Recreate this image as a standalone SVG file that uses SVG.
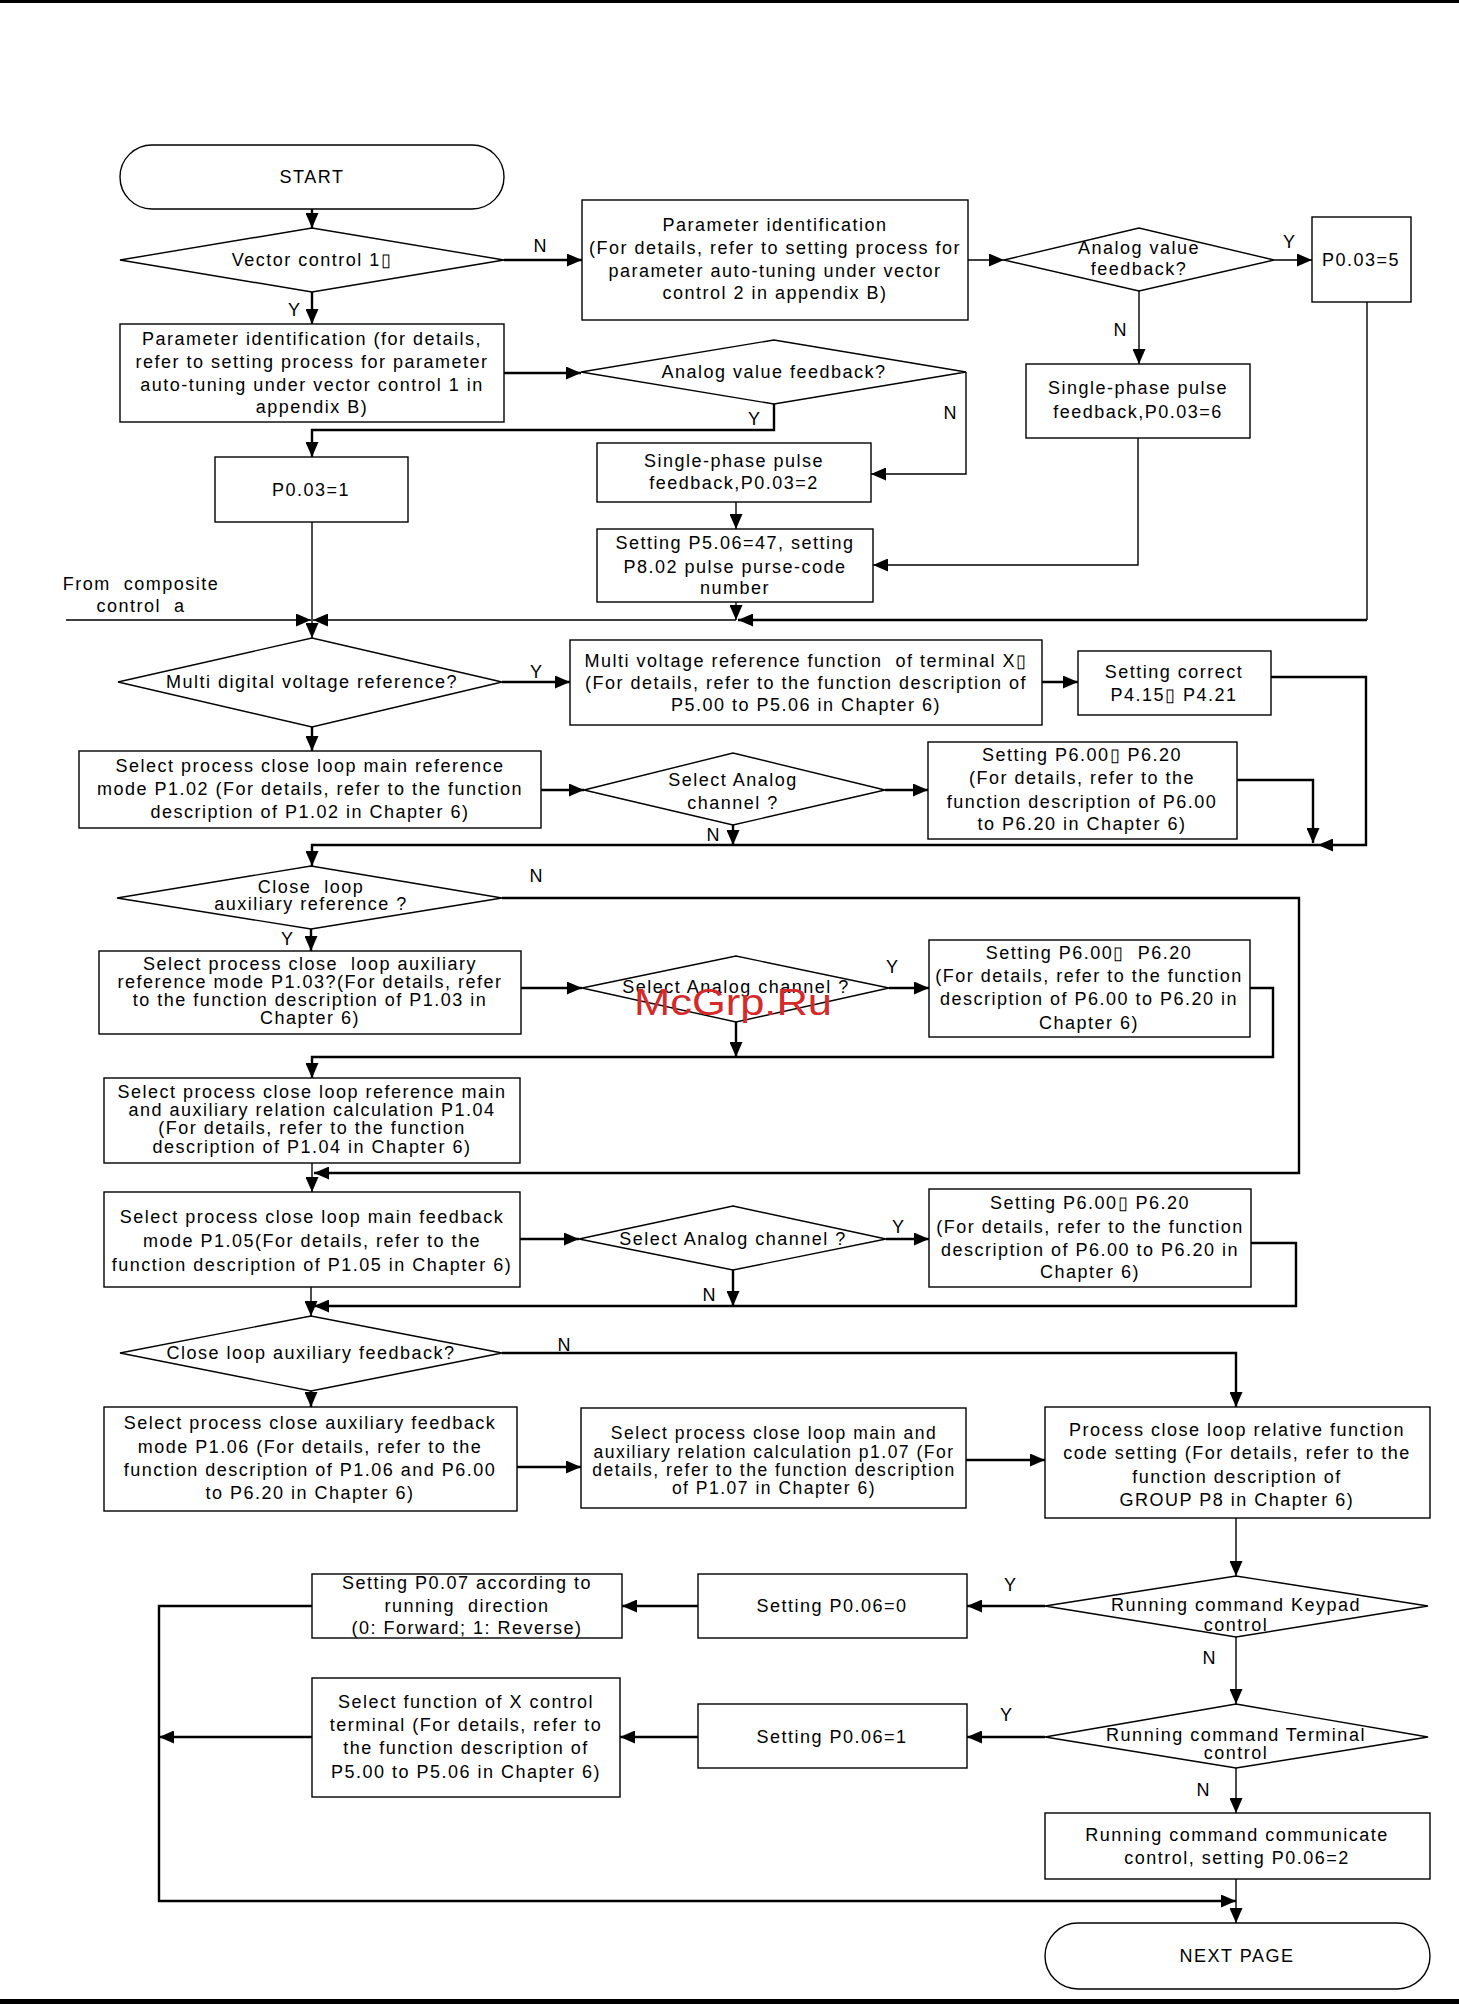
<svg xmlns="http://www.w3.org/2000/svg" width="1459" height="2004" viewBox="0 0 1459 2004">
<style>
.s{fill:#fff;stroke:#000;stroke-width:1.4}
.t{font-family:"Liberation Sans",Arial,sans-serif;font-size:18px;letter-spacing:1.5px;text-anchor:middle;fill:#000}
.sm{font-size:17.5px;letter-spacing:1.5px}
.l{font-family:"Liberation Sans",Arial,sans-serif;font-size:18px;text-anchor:middle;fill:#000}
.c{fill:none;stroke:#000;stroke-width:2.4}
.n{fill:none;stroke:#000;stroke-width:1.4}
</style>
<defs>
<marker id="a" markerUnits="userSpaceOnUse" markerWidth="15" markerHeight="13" refX="15" refY="6.5" orient="auto"><path d="M0,0 L15,6.5 L0,13 z" fill="#000"/></marker>
</defs>
<rect x="0" y="0" width="1459" height="3" fill="#000"/>
<rect x="0" y="1999" width="1459" height="5" fill="#000"/>

<g id="connectors">
<path class="c" d="M312,209 V228" marker-end="url(#a)"/>
<path class="c" d="M504,260 H582" marker-end="url(#a)"/>
<path class="c" d="M312,292 V324" marker-end="url(#a)"/>
<path class="n" d="M968,260 H1004" marker-end="url(#a)"/>
<path class="n" d="M1274,260 H1312" marker-end="url(#a)"/>
<path class="n" d="M1139,291 V364" marker-end="url(#a)"/>
<path class="c" d="M504,373 H581" marker-end="url(#a)"/>
<path class="c" d="M774,404 V430 H312 V457" marker-end="url(#a)"/>
<path class="n" d="M966,372 V474 H871" marker-end="url(#a)"/>
<path class="n" d="M736,502 V529" marker-end="url(#a)"/>
<path class="n" d="M1138,438 V565 H873" marker-end="url(#a)"/>
<path class="n" d="M1367,302 V620" />
<path class="c" d="M1367,620 H738" marker-end="url(#a)"/>
<path class="n" d="M736,602 V620" marker-end="url(#a)"/>
<path class="n" d="M736,620 H313" marker-end="url(#a)"/>
<path class="n" d="M66,620 H311" marker-end="url(#a)"/>
<path class="n" d="M312,522 V638" marker-end="url(#a)"/>
<path class="c" d="M502,682 H570" marker-end="url(#a)"/>
<path class="c" d="M312,727 V751" marker-end="url(#a)"/>
<path class="c" d="M1042,682 H1078" marker-end="url(#a)"/>
<path class="c" d="M1271,677 H1366 V845 H1318" marker-end="url(#a)"/>
<path class="c" d="M541,790 H584" marker-end="url(#a)"/>
<path class="c" d="M885,790 H928" marker-end="url(#a)"/>
<path class="c" d="M1237,780 H1313 V843" marker-end="url(#a)"/>
<path class="c" d="M733,825 V845" marker-end="url(#a)"/>
<path class="c" d="M1318,845 H312 V866" marker-end="url(#a)"/>
<path class="c" d="M502,898 H1299 V1173 H314" marker-end="url(#a)"/>
<path class="c" d="M311,929 V951" marker-end="url(#a)"/>
<path class="c" d="M521,988 H582" marker-end="url(#a)"/>
<path class="c" d="M889,988 H929" marker-end="url(#a)"/>
<path class="c" d="M1250,988 H1273 V1057 H312 V1078" marker-end="url(#a)"/>
<path class="c" d="M736,1022 V1057" marker-end="url(#a)"/>
<path class="n" d="M312,1163 V1192" marker-end="url(#a)"/>
<path class="c" d="M520,1239 H579" marker-end="url(#a)"/>
<path class="c" d="M886,1239 H929" marker-end="url(#a)"/>
<path class="c" d="M1251,1243 H1296 V1306 H314" marker-end="url(#a)"/>
<path class="c" d="M733,1270 V1306" marker-end="url(#a)"/>
<path class="n" d="M311,1287 V1316" marker-end="url(#a)"/>
<path class="c" d="M502,1353 H1236 V1407" marker-end="url(#a)"/>
<path class="c" d="M311,1391 V1407" marker-end="url(#a)"/>
<path class="c" d="M517,1467 H581" marker-end="url(#a)"/>
<path class="c" d="M966,1460 H1045" marker-end="url(#a)"/>
<path class="n" d="M1236,1518 V1576" marker-end="url(#a)"/>
<path class="c" d="M1045,1606 H967" marker-end="url(#a)"/>
<path class="c" d="M698,1606 H622" marker-end="url(#a)"/>
<path class="c" d="M312,1606 H159 V1901 H1236" marker-end="url(#a)"/>
<path class="n" d="M1236,1637 V1704" marker-end="url(#a)"/>
<path class="c" d="M1045,1737 H967" marker-end="url(#a)"/>
<path class="c" d="M698,1737 H620" marker-end="url(#a)"/>
<path class="c" d="M312,1737 H159" marker-end="url(#a)"/>
<path class="n" d="M1236,1768 V1813" marker-end="url(#a)"/>
<path class="n" d="M1236,1879 V1923" marker-end="url(#a)"/>
<g class="l">
<text x="540" y="252">N</text>
<text x="294" y="316">Y</text>
<text x="1289" y="248">Y</text>
<text x="1120" y="336">N</text>
<text x="754" y="425">Y</text>
<text x="950" y="419">N</text>
<text x="536" y="678">Y</text>
<text x="713" y="841">N</text>
<text x="536" y="882">N</text>
<text x="287" y="945">Y</text>
<text x="892" y="973">Y</text>
<text x="898" y="1233">Y</text>
<text x="709" y="1301">N</text>
<text x="564" y="1351">N</text>
<text x="1010" y="1591">Y</text>
<text x="1209" y="1664">N</text>
<text x="1006" y="1721">Y</text>
<text x="1203" y="1796">N</text>
</g>
</g>

<g id="start"><rect class="s" x="120" y="145" width="384" height="64" rx="32"/><text class="t" x="312" y="183">START</text></g>
<g id="d_vector"><polygon class="s" points="120,260 312,228 504,260 312,292"/><text class="t" x="312" y="266">Vector control 1▯</text></g>
<g id="b_pid2"><rect class="s" x="582" y="200" width="386" height="120"/><text class="t" x="775" y="231">Parameter identification</text><text class="t" x="775" y="254">(For details, refer to setting process for</text><text class="t" x="775" y="277">parameter auto-tuning under vector</text><text class="t" x="775" y="299">control 2 in appendix B)</text></g>
<g id="d_analog3"><polygon class="s" points="1004,260 1139,228 1274,260 1139,291"/><text class="t" x="1139" y="254">Analog value</text><text class="t" x="1139" y="275">feedback?</text></g>
<g id="b_p5"><rect class="s" x="1312" y="217" width="99" height="85"/><text class="t" x="1361" y="266">P0.03=5</text></g>
<g id="b_sp6"><rect class="s" x="1026" y="364" width="224" height="74"/><text class="t" x="1138" y="394">Single-phase pulse</text><text class="t" x="1138" y="418">feedback,P0.03=6</text></g>
<g id="b_pid1"><rect class="s" x="120" y="324" width="384" height="98"/><text class="t" x="312" y="345">Parameter identification (for details,</text><text class="t" x="312" y="368">refer to setting process for parameter</text><text class="t" x="312" y="391">auto-tuning under vector control 1 in</text><text class="t" x="312" y="413">appendix B)</text></g>
<g id="d_analog2"><polygon class="s" points="581,372 774,340 966,372 774,404"/><text class="t" x="774" y="378">Analog value feedback?</text></g>
<g id="b_p1"><rect class="s" x="215" y="457" width="193" height="65"/><text class="t" x="311" y="496">P0.03=1</text></g>
<g id="b_sp2"><rect class="s" x="597" y="443" width="274" height="59"/><text class="t" x="734" y="467">Single-phase pulse</text><text class="t" x="734" y="489">feedback,P0.03=2</text></g>
<g id="b_set547"><rect class="s" x="597" y="529" width="276" height="73"/><text class="t" x="735" y="549">Setting P5.06=47, setting</text><text class="t" x="735" y="573">P8.02 pulse purse-code</text><text class="t" x="735" y="594">number</text></g>
<g id="from_composite"><text class="t" x="141" y="590" xml:space="preserve">From  composite</text><text class="t" x="141" y="612" xml:space="preserve">control  a</text></g>
<g id="d_multi"><polygon class="s" points="118,682 312,638 502,682 312,727"/><text class="t" x="312" y="688">Multi digital voltage reference?</text></g>
<g id="b_mv"><rect class="s" x="570" y="640" width="472" height="85"/><text class="t" x="806" y="667" xml:space="preserve">Multi voltage reference function  of terminal X▯</text><text class="t" x="806" y="689">(For details, refer to the function description of</text><text class="t" x="806" y="711">P5.00 to P5.06 in Chapter 6)</text></g>
<g id="b_sc"><rect class="s" x="1078" y="651" width="193" height="64"/><text class="t" x="1174" y="678">Setting correct</text><text class="t" x="1174" y="701">P4.15▯ P4.21</text></g>
<g id="b_main"><rect class="s" x="79" y="751" width="462" height="77"/><text class="t" x="310" y="772">Select process close loop main reference</text><text class="t" x="310" y="795">mode P1.02 (For details, refer to the function</text><text class="t" x="310" y="818">description of P1.02 in Chapter 6)</text></g>
<g id="d_sel1"><polygon class="s" points="584,790 733,753 885,790 733,825"/><text class="t" x="733" y="786">Select Analog</text><text class="t" x="733" y="809">channel ?</text></g>
<g id="b_p6a"><rect class="s" x="928" y="742" width="309" height="97"/><text class="t" x="1082" y="761">Setting P6.00▯ P6.20</text><text class="t" x="1082" y="784">(For details, refer to the</text><text class="t" x="1082" y="808">function description of P6.00</text><text class="t" x="1082" y="830">to P6.20 in Chapter 6)</text></g>
<g id="d_auxref"><polygon class="s" points="117,898 311,866 502,898 311,929"/><text class="t" x="311" y="893" xml:space="preserve">Close  loop</text><text class="t" x="311" y="910">auxiliary reference ?</text></g>
<g id="b_aux"><rect class="s" x="99" y="951" width="422" height="83"/><text class="t" x="310" y="970" xml:space="preserve">Select process close  loop auxiliary</text><text class="t" x="310" y="988">reference mode P1.03?(For details, refer</text><text class="t" x="310" y="1006">to the function description of P1.03 in</text><text class="t" x="310" y="1024">Chapter 6)</text></g>
<g id="d_sel2"><polygon class="s" points="582,988 736,956 889,988 736,1022"/><text class="t" x="736" y="993">Select Analog channel ?</text></g>
<g id="b_p6b"><rect class="s" x="929" y="940" width="321" height="97"/><text class="t" x="1089" y="959" xml:space="preserve">Setting P6.00▯  P6.20</text><text class="t" x="1089" y="982">(For details, refer to the function</text><text class="t" x="1089" y="1005">description of P6.00 to P6.20 in</text><text class="t" x="1089" y="1029">Chapter 6)</text></g>
<g id="b_rel"><rect class="s" x="104" y="1078" width="416" height="85"/><text class="t" x="312" y="1098">Select process close loop reference main</text><text class="t" x="312" y="1116">and auxiliary relation calculation P1.04</text><text class="t" x="312" y="1134">(For details, refer to the function</text><text class="t" x="312" y="1153">description of P1.04 in Chapter 6)</text></g>
<g id="b_fb"><rect class="s" x="104" y="1192" width="416" height="95"/><text class="t" x="312" y="1223">Select process close loop main feedback</text><text class="t" x="312" y="1247">mode P1.05(For details, refer to the</text><text class="t" x="312" y="1271">function description of P1.05 in Chapter 6)</text></g>
<g id="d_sel3"><polygon class="s" points="579,1239 733,1206 886,1239 733,1270"/><text class="t" x="733" y="1245">Select Analog channel ?</text></g>
<g id="b_p6c"><rect class="s" x="929" y="1189" width="322" height="98"/><text class="t" x="1090" y="1209">Setting P6.00▯ P6.20</text><text class="t" x="1090" y="1233">(For details, refer to the function</text><text class="t" x="1090" y="1256">description of P6.00 to P6.20 in</text><text class="t" x="1090" y="1278">Chapter 6)</text></g>
<g id="d_auxfb"><polygon class="s" points="120,1353 311,1316 502,1353 311,1391"/><text class="t" x="311" y="1359">Close loop auxiliary feedback?</text></g>
<g id="b_afb"><rect class="s" x="104" y="1407" width="413" height="104"/><text class="t" x="310" y="1429">Select process close auxiliary feedback</text><text class="t" x="310" y="1453">mode P1.06 (For details, refer to the</text><text class="t" x="310" y="1476">function description of P1.06 and P6.00</text><text class="t" x="310" y="1499">to P6.20 in Chapter 6)</text></g>
<g id="b_p107"><rect class="s" x="581" y="1408" width="385" height="100"/><text class="t sm" x="774" y="1439">Select process close loop main and</text><text class="t sm" x="774" y="1458">auxiliary relation calculation p1.07 (For</text><text class="t sm" x="774" y="1476">details, refer to the function description</text><text class="t sm" x="774" y="1494">of P1.07 in Chapter 6)</text></g>
<g id="b_p8"><rect class="s" x="1045" y="1407" width="385" height="111"/><text class="t" x="1237" y="1436">Process close loop relative function</text><text class="t" x="1237" y="1459">code setting (For details, refer to the</text><text class="t" x="1237" y="1483">function description of</text><text class="t" x="1237" y="1506">GROUP P8 in Chapter 6)</text></g>
<g id="d_keypad"><polygon class="s" points="1045,1606 1236,1576 1428,1606 1236,1637"/><text class="t" x="1236" y="1611">Running command Keypad</text><text class="t" x="1236" y="1631">control</text></g>
<g id="b_s0"><rect class="s" x="698" y="1574" width="269" height="64"/><text class="t" x="832" y="1612">Setting P0.06=0</text></g>
<g id="b_p07"><rect class="s" x="312" y="1574" width="310" height="64"/><text class="t" x="467" y="1589">Setting P0.07 according to</text><text class="t" x="467" y="1612" xml:space="preserve">running  direction</text><text class="t" x="467" y="1634">(0: Forward; 1: Reverse)</text></g>
<g id="d_terminal"><polygon class="s" points="1045,1737 1236,1704 1428,1737 1236,1768"/><text class="t" x="1236" y="1741">Running command Terminal</text><text class="t" x="1236" y="1759">control</text></g>
<g id="b_s1"><rect class="s" x="698" y="1704" width="269" height="64"/><text class="t" x="832" y="1743">Setting P0.06=1</text></g>
<g id="b_xf"><rect class="s" x="312" y="1678" width="308" height="119"/><text class="t" x="466" y="1708">Select function of X control</text><text class="t" x="466" y="1731">terminal (For details, refer to</text><text class="t" x="466" y="1754">the function description of</text><text class="t" x="466" y="1778">P5.00 to P5.06 in Chapter 6)</text></g>
<g id="b_comm"><rect class="s" x="1045" y="1813" width="385" height="66"/><text class="t" x="1237" y="1841">Running command communicate</text><text class="t" x="1237" y="1864">control, setting P0.06=2</text></g>
<g id="next_page"><rect class="s" x="1045" y="1923" width="385" height="66" rx="33"/><text class="t" x="1237" y="1962">NEXT PAGE</text></g>
<text x="634" y="1015" font-family="Liberation Sans, Arial, sans-serif" font-size="36" fill="#d42a2a" textLength="198" lengthAdjust="spacingAndGlyphs">McGrp.Ru</text>
</svg>
